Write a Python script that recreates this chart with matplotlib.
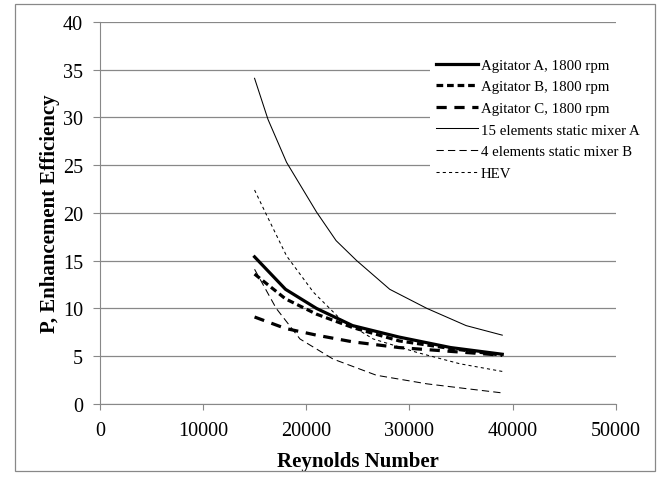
import matplotlib
matplotlib.use("Agg")
import matplotlib.pyplot as plt
from matplotlib.patches import Rectangle

plt.rcParams['font.family'] = ['Liberation Serif', 'DejaVu Serif']

# Reynolds number, per series
re_agit = [15000, 18000, 21000, 24500, 29000, 34000, 39000]
agit_a = [15.4, 12.0, 10.0, 8.2, 7.0, 5.9, 5.2]
agit_b = [13.6, 11.0, 9.4, 8.0, 6.6, 5.8, 5.1]
agit_c = [9.1, 7.9, 7.2, 6.5, 5.9, 5.5, 5.1]

re_mix_a = [15000, 16300, 18100, 21000, 22900, 24900, 28100, 31700, 35500, 39000]
mix_a = [34.1, 29.8, 25.3, 20.1, 17.1, 15.0, 12.0, 10.0, 8.2, 7.2]

re_mix_b = [15000, 17100, 19400, 22600, 26800, 31700, 35500, 39000]
mix_b = [14.1, 10.0, 6.8, 4.7, 3.0, 2.1, 1.6, 1.15]

re_hev = [15000, 16200, 18100, 20700, 23300, 26500, 30700, 34900, 39000]
hev = [22.4, 19.7, 15.5, 11.7, 8.9, 6.8, 5.4, 4.2, 3.4]

fig = plt.figure(figsize=(6.65, 4.89), dpi=100)
ax = fig.add_axes([0.150, 0.172, 0.776, 0.781])

ax.plot(re_agit, agit_a, color='black', lw=2.3, label='Agitator A, 1800 rpm')
ax.plot(re_agit, agit_b, color='black', lw=2.3, dashes=(2.1, 1.2), label='Agitator B, 1800 rpm')
ax.plot(re_agit, agit_c, color='black', lw=2.3, dashes=(3.2, 2.4), label='Agitator C, 1800 rpm')
ax.plot(re_mix_a, mix_a, color='black', lw=0.75, label='15 elements static mixer A')
ax.plot(re_mix_b, mix_b, color='black', lw=0.75, dashes=(7, 4), label='4 elements static mixer B')
ax.plot(re_hev, hev, color='black', lw=0.75, dashes=(3, 3), label='HEV')

ax.set_xlim(0, 50000)
ax.set_ylim(0, 40)
ax.set_xticks(range(0, 50001, 10000))
ax.set_yticks(range(0, 41, 5))
ax.yaxis.grid(True, color='#888888', lw=0.9)
ax.set_axisbelow(True)
for s in ['top', 'right']:
    ax.spines[s].set_visible(False)
for s in ['left', 'bottom']:
    ax.spines[s].set_color('#888888')
ax.tick_params(axis='both', colors='#888888', labelcolor='black', labelsize=14.5)
ax.tick_params(axis='x', length=4, pad=8)
ax.tick_params(axis='y', length=5, pad=7)

ax.set_xlabel('Reynolds Number', fontsize=15, fontweight='bold', labelpad=8)
ax.set_ylabel('P, Enhancement Efficiency', fontsize=15, fontweight='bold', labelpad=2)

leg = ax.legend(loc='upper left', bbox_to_anchor=(0.64, 0.92), frameon=True, fontsize=10.7,
                handlelength=2.8, labelspacing=0.55, handletextpad=0.2, borderaxespad=0,
                borderpad=0.4)
leg.get_frame().set_edgecolor('none')
leg.get_frame().set_facecolor('white')
leg.get_frame().set_alpha(1)

fig.patches.append(Rectangle((0.022, 0.035), 0.963, 0.955, transform=fig.transFigure,
                             fill=False, edgecolor='#888888', lw=0.9))

fig.savefig('out.png', dpi=100)
